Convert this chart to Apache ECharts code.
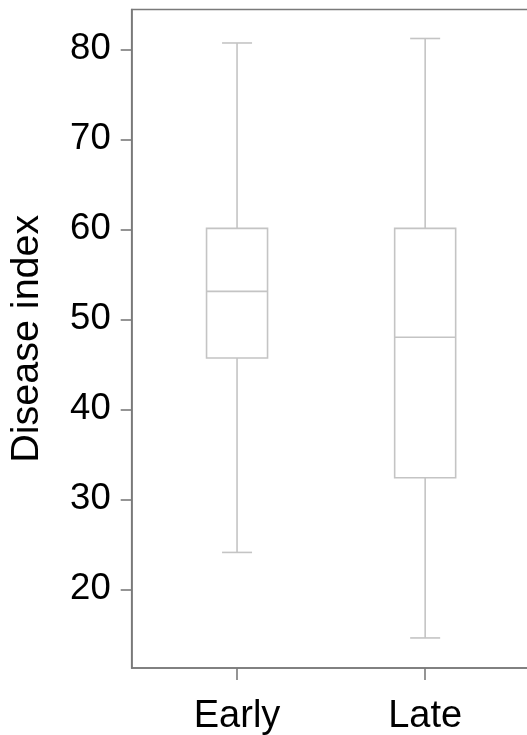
<!DOCTYPE html>
<html>
<head>
<meta charset="utf-8">
<script src="https://cdn.jsdelivr.net/npm/echarts@6/dist/echarts.min.js"></script>
<style>
html,body{margin:0;padding:0;background:#fff;}
#c{width:527px;height:735px;}
</style>
</head>
<body>
<div id="c"></div>
<script>
var categories = ['Early', 'Late'];
var whiskerLow = [24.1, 14.6];
var q1Values = [45.7, 32.4];
var medians = [53.1, 48.0];
var q3Values = [60.1, 60.1];
var whiskerHigh = [80.7, 81.2];
var yTicks = [20, 30, 40, 50, 60, 70, 80];

var data = categories.map(function (c, i) {
  return [i + 1, whiskerLow[i], q1Values[i], medians[i], q3Values[i], whiskerHigh[i]];
});

var chart = echarts.init(document.getElementById('c'), null, {renderer: 'canvas'});
var FONT = 'Liberation Sans, Arial, sans-serif';
var boxColor = '#c4c4c4';

function renderItem(params, api) {
  var x = api.value(0);
  var pLow = api.coord([x, api.value(1)]);
  var pQ1 = api.coord([x, api.value(2)]);
  var pMed = api.coord([x, api.value(3)]);
  var pQ3 = api.coord([x, api.value(4)]);
  var pHigh = api.coord([x, api.value(5)]);
  var cx = pMed[0];
  var boxHalf = 30.5;
  var capHalf = 15;
  var style = {stroke: boxColor, lineWidth: 1.6, fill: null};
  return {
    type: 'group',
    children: [
      {type: 'line', shape: {x1: cx, y1: pLow[1], x2: cx, y2: pQ1[1]}, style: style},
      {type: 'line', shape: {x1: cx, y1: pQ3[1], x2: cx, y2: pHigh[1]}, style: style},
      {type: 'line', shape: {x1: cx - capHalf, y1: pLow[1], x2: cx + capHalf, y2: pLow[1]}, style: style},
      {type: 'line', shape: {x1: cx - capHalf, y1: pHigh[1], x2: cx + capHalf, y2: pHigh[1]}, style: style},
      {type: 'rect', shape: {x: cx - boxHalf, y: pQ3[1], width: boxHalf * 2, height: pQ1[1] - pQ3[1]}, style: {stroke: boxColor, lineWidth: 1.6, fill: '#fff'}},
      {type: 'line', shape: {x1: cx - boxHalf, y1: pMed[1], x2: cx + boxHalf, y2: pMed[1]}, style: style}
    ]
  };
}

chart.setOption({
  animation: false,
  backgroundColor: '#fff',
  grid: {
    left: 131.7, right: -3.5, top: 9.5, bottom: 67,
    containLabel: false, outerBoundsMode: 'none',
    show: true, borderColor: '#7a7a7a', borderWidth: 1.6, backgroundColor: 'transparent'
  },
  xAxis: {
    type: 'value', min: 0.44, max: 2.56,
    splitLine: {show: false},
    axisLine: {show: true, lineStyle: {color: '#7a7a7a', width: 1.6}},
    axisTick: {show: true, customValues: [1, 2], length: 12, lineStyle: {color: '#7a7a7a', width: 1.6}},
    axisLabel: {
      customValues: [1, 2],
      formatter: function (v) { return categories[Math.round(v) - 1]; },
      fontSize: 38, fontFamily: FONT, color: '#000', margin: 30
    }
  },
  yAxis: {
    type: 'value', min: 11.26, max: 84.42,
    name: 'Disease index', nameLocation: 'middle', nameGap: 85,
    nameTextStyle: {fontSize: 39.5, fontFamily: FONT, color: '#000'},
    splitLine: {show: false},
    axisLine: {show: true, lineStyle: {color: '#7a7a7a', width: 1.6}},
    axisTick: {show: true, customValues: yTicks, length: 11, lineStyle: {color: '#7a7a7a', width: 1.6}},
    axisLabel: {customValues: yTicks, fontSize: 36.5, fontFamily: FONT, color: '#000', margin: 21}
  },
  series: [{
    type: 'custom',
    renderItem: renderItem,
    encode: {x: 0, y: [1, 2, 3, 4, 5]},
    data: data,
    clip: false
  }]
});
</script>
</body>
</html>
